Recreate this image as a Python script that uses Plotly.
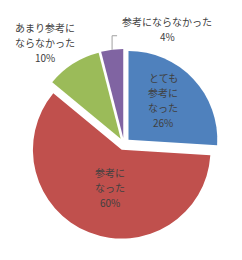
import math
import plotly.graph_objects as go

labels = ["とても参考になった", "参考になった", "あまり参考にならなかった", "参考にならなかった"]
display_lines = [["とても", "参考に", "なった"], ["参考に", "なった"], ["あまり参考に", "ならなかった"], ["参考にならなかった"]]
values = [26, 60, 10, 4]
colors = ["#4F81BD", "#C0504D", "#9BBB59", "#8064A2"]

# layout (pixels)
W, H = 242, 260
L, R, T, B = 29, 23, 49, 21
PULL = 0.07
LINE_H = 15
# label centers in pixel coordinates (layout only)
label_px = [(163, 100), (110, 187), (45, 42), (167, 29)]

fig = go.Figure(go.Pie(
    labels=labels,
    values=values,
    textinfo="none",
    sort=False,
    direction="clockwise",
    rotation=0,
    pull=[PULL] * len(values),
    marker=dict(colors=colors, line=dict(width=0)),
    showlegend=False,
    hoverinfo="skip",
))

pw, ph = W - L - R, H - T - B


def to_paper(px, py):
    return (px - L) / pw, (H - B - py) / ph


total = sum(values)
for i, (lines, v) in enumerate(zip(display_lines, values)):
    all_lines = lines + [f"{round(100 * v / total)}%"]
    n = len(all_lines)
    cxl, cyl = label_px[i]
    for k, line in enumerate(all_lines):
        py = cyl + (k - (n - 1) / 2) * LINE_H
        x, y = to_paper(cxl, py)
        fig.add_annotation(
            x=x, y=y, xref="paper", yref="paper",
            text=line,
            showarrow=False, xanchor="center", yanchor="middle",
            font=dict(family="Noto Sans CJK JP", size=10, color="#404040"),
        )

# leader line for the smallest slice, starting at its outer edge
cx, cy = L + pw / 2, T + ph / 2
r = (min(pw, ph) / 2) / (1 + PULL)
start = sum(values[:3]) / total
mid = (start + values[3] / total / 2) * 2 * math.pi
ex = cx + (r * (1 + PULL)) * math.sin(mid)
ey = cy - (r * (1 + PULL)) * math.cos(mid)
p0 = to_paper(ex, ey)
p1 = to_paper(ex, ey - 14)
p2 = to_paper(ex + 5, ey - 14)
fig.add_shape(
    type="path", xref="paper", yref="paper",
    path=f"M {p0[0]} {p0[1]} L {p1[0]} {p1[1]} L {p2[0]} {p2[1]}",
    line=dict(color="#A0A0A0", width=1),
)

fig.update_layout(
    width=W, height=H,
    margin=dict(l=L, r=R, t=T, b=B),
    paper_bgcolor="white",
    plot_bgcolor="white",
)

fig.write_html("out.html")
